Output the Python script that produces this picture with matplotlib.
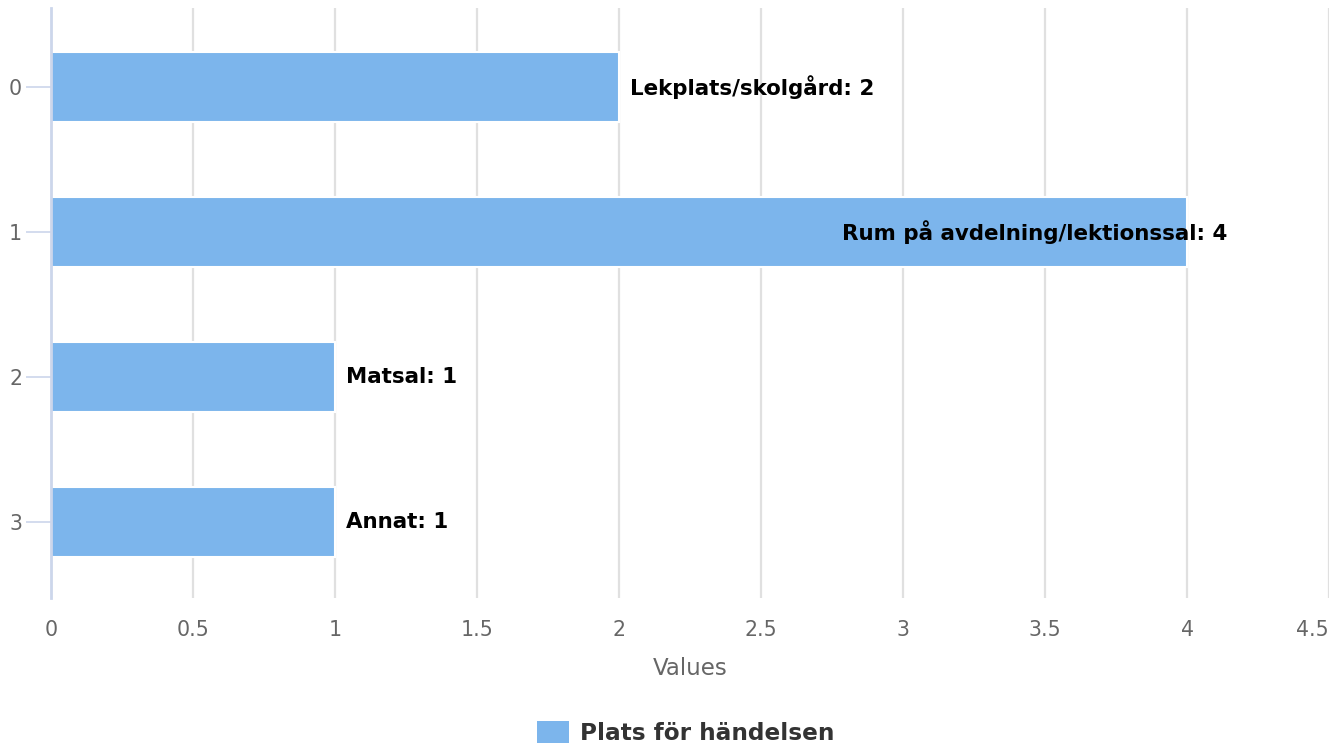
import numpy as np
import matplotlib.pyplot as plt
from matplotlib.patches import Patch

plt.rcParams['font.family'] = ['DejaVu Sans']

kategorier = [0, 1, 2, 3]
platser = ["Lekplats/skolgård", "Rum på avdelning/lektionssal", "Matsal", "Annat"]
antal = [2, 4, 1, 1]
serie_namn = "Plats för händelsen"

fig = plt.figure(figsize=(13.44, 7.49), dpi=100)
ax = fig.add_axes([51 / 1344, 1 - 598 / 749, (1329 - 51) / 1344, (598 - 8) / 749])

ax.barh(kategorier, antal, height=0.48, color="#7cb5ec", edgecolor="white", linewidth=1.5, zorder=3)

ax.set_xlim(0, 4.5)
ax.set_ylim(3.525, -0.545)
ax.set_xticks(np.arange(0, 4.51, 0.5))
ax.set_xticklabels(["0", "0.5", "1", "1.5", "2", "2.5", "3", "3.5", "4", "4.5"])
ax.set_yticks(kategorier)
ax.grid(axis="x", color="#e0e0e0", linewidth=1.6, zorder=0)
ax.tick_params(axis="x", length=0, pad=16, labelsize=14.8, labelcolor="#666666")
ax.tick_params(axis="y", length=18, width=1.2, color="#ccd6eb", pad=2.8, labelsize=14.8, labelcolor="#666666")
# sista etiketten hålls innanför kanten
ax.get_xticklabels()[-1].set_horizontalalignment("right")
for s in ["top", "right", "bottom"]:
    ax.spines[s].set_visible(False)
ax.spines["left"].set_color("#ccd6eb")
ax.spines["left"].set_linewidth(2)
ax.spines["left"].set_zorder(4)

ax.set_xlabel("Values", fontsize=16.5, color="#666666", labelpad=12)

# etiketter till höger om staplarna, den långa flyttas in så den får plats
for i, (namn, v) in enumerate(zip(platser, antal)):
    txt = f"{namn}: {v}"
    if v >= 4:
        ax.text(v + 0.142, i, txt, ha="right", va="center", fontsize=15.4, fontweight="bold", color="black", zorder=5)
    else:
        ax.text(v + 0.04, i, txt, ha="left", va="center", fontsize=15.4, fontweight="bold", color="black", zorder=5)

fig.legend(handles=[Patch(facecolor="#7cb5ec", edgecolor="none", label=serie_namn)],
           loc="center", bbox_to_anchor=(685.5 / 1344, 1 - 733 / 749), frameon=False,
           prop={"weight": "bold", "size": 16.7}, labelcolor="#333333",
           handlelength=1.38, handleheight=1.08, handletextpad=0.5)

fig.savefig("out.png", dpi=100)
